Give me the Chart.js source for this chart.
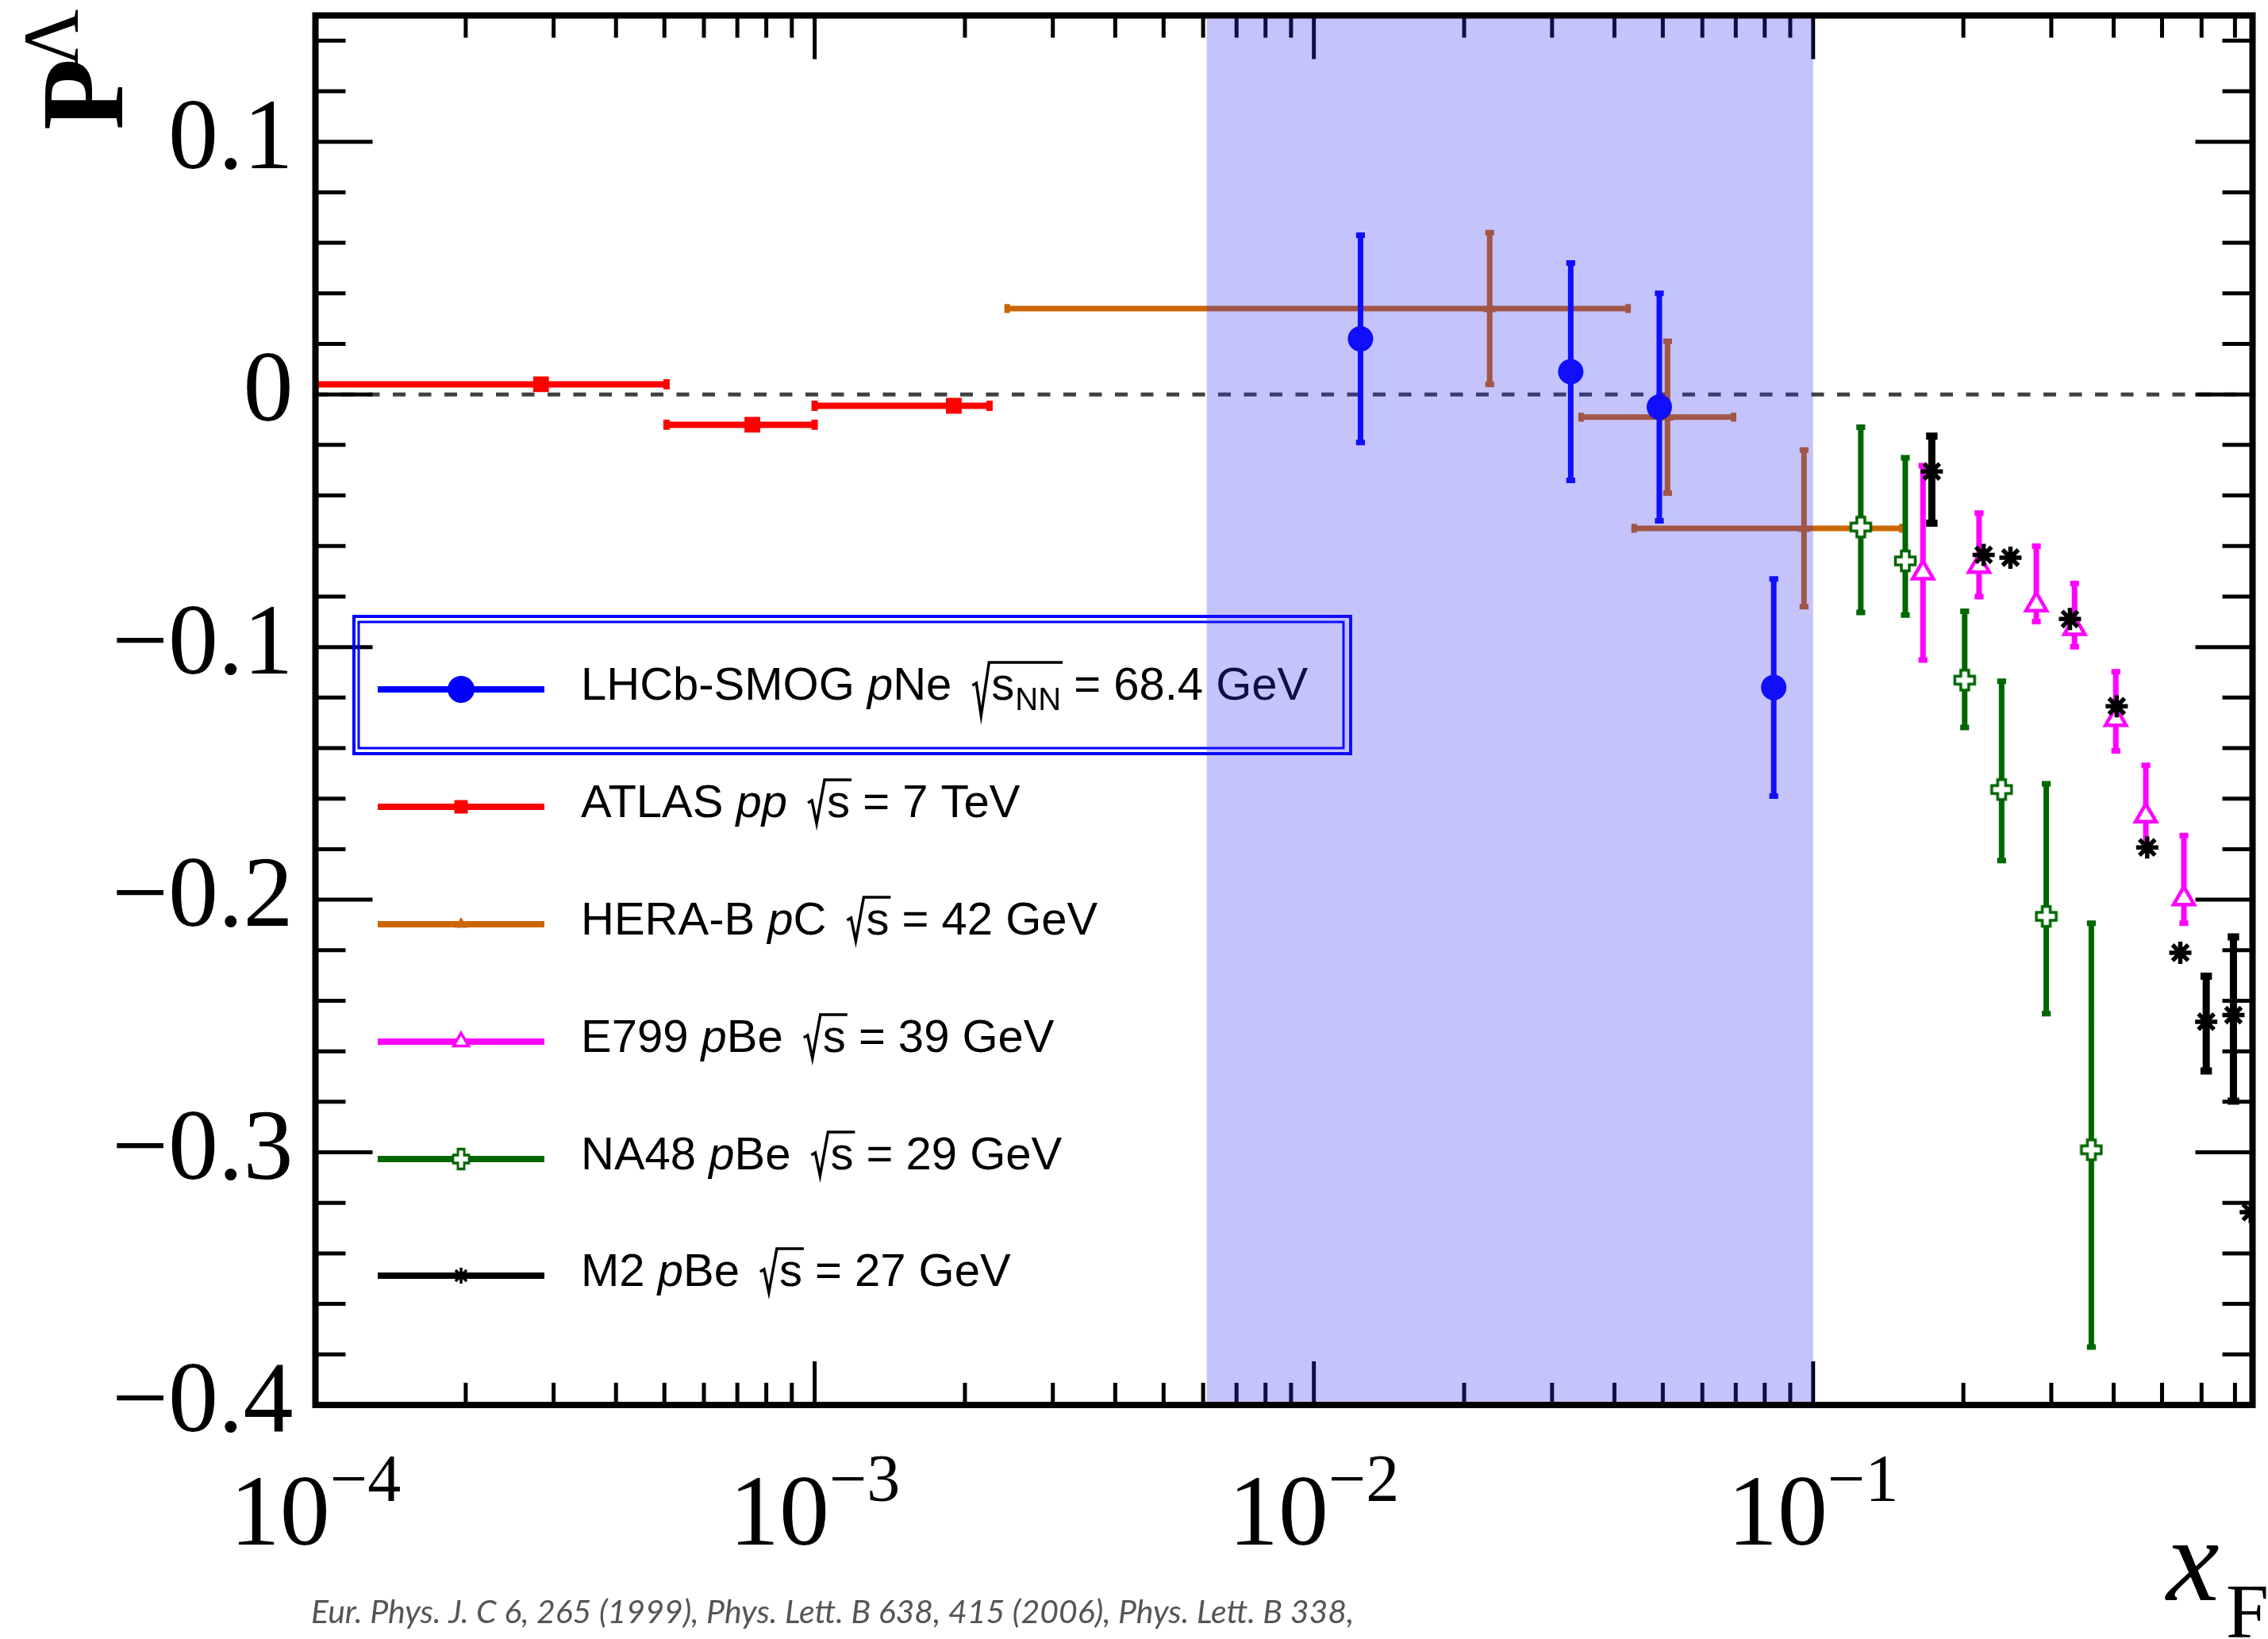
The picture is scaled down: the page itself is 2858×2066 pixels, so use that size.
<!DOCTYPE html>
<html>
<head>
<meta charset="utf-8">
<title>Lambda polarisation vs xF</title>
<script src="https://cdn.jsdelivr.net/npm/chart.js"></script>
<style>
  html, body { margin: 0; padding: 0; background: #fff; }
  canvas { display: block; background: #fff; }
</style>
</head>
<body>
<canvas id="chart" width="2858" height="2066"></canvas>
<script>
// axis ranges
const xMin = 1e-4, xMax = 0.759;
const yMin = -0.4, yMax = 0.15;
const xTickDecades = [-4, -3, -2, -1];
const yTickValues = [0.1, 0, -0.1, -0.2, -0.3, -0.4];

// LHCb-SMOG pNe, sqrt(sNN) = 68.4 GeV
const lhcbX = [0.0124, 0.0327, 0.0492, 0.0834];
const lhcbY = [0.022, 0.009, -0.005, -0.116];
const lhcbErr = [0.041, 0.043, 0.045, 0.043];

// ATLAS pp 7 TeV (horizontal bins only)
const atlasX = [2.83e-4, 7.5e-4, 1.9e-3];
const atlasY = [0.004, -0.012, -0.0045];
const atlasXLo = [1e-4, 5.05e-4, 1.0e-3];
const atlasXHi = [5.05e-4, 1.0e-3, 2.24e-3];

// HERA-B pC 42 GeV
const herabX = [0.0225, 0.0511, 0.0959];
const herabY = [0.034, -0.009, -0.053];
const herabXLo = [0.00243, 0.0343, 0.0438];
const herabXHi = [0.0426, 0.0693, 0.1506];
const herabErr = [0.030, 0.030, 0.031];

// E799 pBe 39 GeV
const e799X = [0.166, 0.215, 0.280, 0.334, 0.404, 0.464, 0.553];
const e799Y = [-0.0706, -0.068, -0.0832, -0.0926, -0.1286, -0.1668, -0.1996];
const e799ErrLo = [0.0345, 0.012, 0.0067, 0.0073, 0.0125, 0.0138, 0.0097];
const e799ErrHi = [0.0424, 0.021, 0.0231, 0.0178, 0.0188, 0.020, 0.025];

// NA48 pBe 29 GeV
const na48X = [0.1246, 0.153, 0.2012, 0.2386, 0.2931, 0.3609];
const na48Y = [-0.0525, -0.0659, -0.1131, -0.1564, -0.2066, -0.2990];
const na48ErrLo = [0.0338, 0.0214, 0.0187, 0.0281, 0.0385, 0.0781];
const na48ErrHi = [0.0395, 0.0408, 0.0273, 0.0429, 0.0525, 0.0897];

// M2 pBe 27 GeV
const m2X = [0.1729, 0.2196, 0.2485, 0.327, 0.4057, 0.467, 0.544, 0.613, 0.695, 0.753];
const m2Y = [-0.0305, -0.0635, -0.0646, -0.0889, -0.1234, -0.1793, -0.221, -0.2483, -0.2457, -0.3237];
const m2ErrLo = [0.0205, 0, 0, 0, 0, 0, 0, 0.0195, 0.034, 0];
const m2ErrHi = [0.014, 0, 0, 0, 0, 0, 0, 0.018, 0.031, 0];

// LHCb acceptance band in xF
const bandX = [0.0061, 0.1];

// legend text pieces
const legendNames = ['LHCb-SMOG', 'ATLAS', 'HERA-B', 'E799', 'NA48', 'M2'];
const legendBeamItalic = ['p', 'pp', 'p', 'p', 'p', 'p'];
const legendBeamRest = ['Ne', '', 'C', 'Be', 'Be', 'Be'];
const legendSub = ['NN', '', '', '', '', ''];
const legendEnergy = ['68.4 GeV', '7 TeV', '42 GeV', '39 GeV', '29 GeV', '27 GeV'];

const footerText = 'Eur. Phys. J. C 6, 265 (1999), Phys. Lett. B 638, 415 (2006), Phys. Lett. B 338,';

const zip = (xs, ys) => xs.map((x, i) => ({ x: x, y: ys[i] }));

// NA48 marker: outlined plus with white inside
function openCross(color) {
  const c = document.createElement('canvas');
  c.width = 30; c.height = 30;
  const g = c.getContext('2d');
  const m = 15, a = 12.5, t = 5;
  g.beginPath();
  g.moveTo(m - t, m - a); g.lineTo(m + t, m - a); g.lineTo(m + t, m - t);
  g.lineTo(m + a, m - t); g.lineTo(m + a, m + t); g.lineTo(m + t, m + t);
  g.lineTo(m + t, m + a); g.lineTo(m - t, m + a); g.lineTo(m - t, m + t);
  g.lineTo(m - a, m + t); g.lineTo(m - a, m - t); g.lineTo(m - t, m - t);
  g.closePath();
  g.fillStyle = '#fff';
  g.fill();
  g.strokeStyle = color;
  g.lineWidth = 3.5;
  g.stroke();
  return c;
}

const BLUE = '#0000ff', RED = '#ff0000', ORANGE = '#cc6600',
      MAGENTA = '#ff00ff', GREEN = '#006600', BLACK = '#000000';
const crossImg = openCross(GREEN);

const datasets = [
  {
    label: 'LHCb-SMOG', data: zip(lhcbX, lhcbY), order: 1,
    pointStyle: 'circle', pointRadius: 16, pointBackgroundColor: BLUE, pointBorderWidth: 0,
    errorBars: { color: BLUE, width: 7, yLo: lhcbErr, yHi: lhcbErr }
  },
  {
    label: 'M2', data: zip(m2X, m2Y), order: 2,
    pointStyle: 'star', pointRadius: 14, pointBorderColor: BLACK, pointBorderWidth: 5.5,
    errorBars: { color: BLACK, width: 9, yLo: m2ErrLo, yHi: m2ErrHi }
  },
  {
    label: 'E799', data: zip(e799X, e799Y), order: 3,
    pointStyle: 'triangle', pointRadius: 15, pointBackgroundColor: '#ffffff',
    pointBorderColor: MAGENTA, pointBorderWidth: 4.5,
    errorBars: { color: MAGENTA, width: 7, yLo: e799ErrLo, yHi: e799ErrHi }
  },
  {
    label: 'NA48', data: zip(na48X, na48Y), order: 4,
    pointStyle: crossImg, pointRadius: 12,
    errorBars: { color: GREEN, width: 7, yLo: na48ErrLo, yHi: na48ErrHi }
  },
  {
    label: 'HERA-B', data: zip(herabX, herabY), order: 5,
    pointStyle: 'triangle', pointRadius: 9, pointBackgroundColor: ORANGE, pointBorderWidth: 0,
    errorBars: { color: ORANGE, width: 7, yLo: herabErr, yHi: herabErr, xLo: herabXLo, xHi: herabXHi }
  },
  {
    label: 'ATLAS', data: zip(atlasX, atlasY), order: 6,
    pointStyle: 'rect', pointRadius: 14, pointBackgroundColor: RED, pointBorderWidth: 0,
    errorBars: { color: RED, width: 8, xLo: atlasXLo, xHi: atlasXHi }
  },
  {
    label: 'zero', type: 'line', order: 10, showLine: true,
    data: [{ x: xMin, y: 0 }, { x: xMax, y: 0 }],
    borderColor: '#404040', borderWidth: 5, borderDash: [16, 16.5], pointRadius: 0
  }
];

// error bars, drawn just before each series' markers
const errorBars = {
  id: 'errorBars',
  beforeDatasetDraw(chart, args) {
    const ds = chart.data.datasets[args.index];
    const eb = ds.errorBars;
    if (!eb) return;
    const { ctx, chartArea: a } = chart;
    const xs = chart.scales.x, ys = chart.scales.y;
    const cap = eb.width * 0.8;
    ctx.save();
    ctx.beginPath();
    ctx.rect(a.left, a.top, a.right - a.left, a.bottom - a.top);
    ctx.clip();
    ctx.strokeStyle = eb.color;
    ctx.lineWidth = eb.width;
    ctx.beginPath();
    ds.data.forEach((p, i) => {
      const px = xs.getPixelForValue(p.x), py = ys.getPixelForValue(p.y);
      if (eb.yLo && (eb.yLo[i] > 0 || eb.yHi[i] > 0)) {
        const y1 = ys.getPixelForValue(p.y - eb.yLo[i]);
        const y2 = ys.getPixelForValue(p.y + eb.yHi[i]);
        ctx.moveTo(px, y1); ctx.lineTo(px, y2);
        ctx.moveTo(px - cap, y1); ctx.lineTo(px + cap, y1);
        ctx.moveTo(px - cap, y2); ctx.lineTo(px + cap, y2);
      }
      if (eb.xLo) {
        const x1 = xs.getPixelForValue(eb.xLo[i]);
        const x2 = xs.getPixelForValue(eb.xHi[i]);
        ctx.moveTo(x1, py); ctx.lineTo(x2, py);
        ctx.moveTo(x1, py - cap); ctx.lineTo(x1, py + cap);
        ctx.moveTo(x2, py - cap); ctx.lineTo(x2, py + cap);
      }
    });
    ctx.stroke();
    ctx.restore();
  }
};

// frame with inward ticks on all four sides
const frame = {
  id: 'frame',
  afterDatasetsDraw(chart) {
    const { ctx, chartArea: a } = chart;
    const xs = chart.scales.x, ys = chart.scales.y;
    ctx.save();
    ctx.strokeStyle = '#000';
    ctx.lineWidth = 5;
    ctx.beginPath();
    for (let d = -4; d <= 0; d++) {
      for (let k = 1; k <= 9; k++) {
        const v = k * Math.pow(10, d);
        if (v < xMin * 1.001 || v > xMax) continue;
        const px = xs.getPixelForValue(v);
        const len = k === 1 ? 55 : 28;
        ctx.moveTo(px, a.bottom); ctx.lineTo(px, a.bottom - len);
        ctx.moveTo(px, a.top); ctx.lineTo(px, a.top + len);
      }
    }
    for (let i = -20; i <= 7; i++) {
      const py = ys.getPixelForValue(i * 0.02);
      const len = i % 5 === 0 ? 72 : 38;
      ctx.moveTo(a.left, py); ctx.lineTo(a.left + len, py);
      ctx.moveTo(a.right, py); ctx.lineTo(a.right - len, py);
    }
    ctx.stroke();
    ctx.lineWidth = 8;
    ctx.strokeRect(a.left, a.top, a.right - a.left, a.bottom - a.top);
    ctx.restore();
  }
};

function drawMarker(ctx, style, radius, fill, stroke, bw, x, y) {
  ctx.save();
  ctx.fillStyle = fill;
  ctx.strokeStyle = stroke;
  ctx.lineWidth = bw;
  Chart.helpers.drawPoint(ctx, { pointStyle: style, radius: radius, rotation: 0, borderWidth: bw }, x, y);
  ctx.restore();
}

function text(ctx, str, x, y, font) {
  ctx.font = font;
  ctx.fillText(str, x, y);
  return x + ctx.measureText(str).width;
}

// legend drawn inside the frame
const legendBox = {
  id: 'legendBox',
  afterDatasetsDraw(chart) {
    const ctx = chart.ctx;
    const rowY = [869, 1017, 1165, 1313, 1461, 1608];
    const colors = [BLUE, RED, ORANGE, MAGENTA, GREEN, BLACK];
    const sans = '58px "Liberation Sans", Arial, sans-serif';
    const isans = 'italic 58px "Liberation Sans", Arial, sans-serif';
    const subFont = '40px "Liberation Sans", Arial, sans-serif';
    ctx.save();
    rowY.forEach((y, i) => {
      ctx.strokeStyle = colors[i];
      ctx.lineWidth = 8;
      ctx.beginPath();
      ctx.moveTo(476, y); ctx.lineTo(686, y);
      ctx.stroke();
      const mx = 581;
      if (i === 0) drawMarker(ctx, 'circle', 17, BLUE, BLUE, 0, mx, y);
      if (i === 1) drawMarker(ctx, 'rect', 12, RED, RED, 0, mx, y);
      if (i === 2) drawMarker(ctx, 'triangle', 9, ORANGE, ORANGE, 0, mx, y);
      if (i === 3) drawMarker(ctx, 'triangle', 11, '#fff', MAGENTA, 3.5, mx, y);
      if (i === 4) ctx.drawImage(crossImg, mx - 12, y - 15, 24, 30);
      if (i === 5) drawMarker(ctx, 'star', 10, BLACK, BLACK, 3.5, mx, y);

      const base = y + 13;
      ctx.fillStyle = '#000';
      ctx.textBaseline = 'alphabetic';
      ctx.textAlign = 'left';
      let cx = text(ctx, legendNames[i] + ' ', 732, base, sans);
      cx = text(ctx, legendBeamItalic[i], cx, base, isans);
      cx = text(ctx, legendBeamRest[i], cx, base, sans);
      cx += 26;
      // square root with overbar
      const top = base - 47;
      const bottom = base + (legendSub[i] ? 20 : 8);
      const rx = cx;
      let end = text(ctx, 's', rx + 24, base, sans);
      if (legendSub[i]) end = text(ctx, legendSub[i], end + 1, base + 13, subFont);
      ctx.strokeStyle = '#000';
      ctx.lineWidth = 3.5;
      ctx.beginPath();
      ctx.moveTo(rx, base - 18);
      ctx.lineTo(rx + 5, base - 21);
      ctx.lineTo(rx + 11, bottom);
      ctx.lineTo(rx + 21, top);
      ctx.lineTo(end + 2, top);
      ctx.stroke();
      text(ctx, ' = ' + legendEnergy[i], end, base, sans);
    });
    // highlight box around the LHCb entry
    ctx.strokeStyle = BLUE;
    ctx.lineWidth = 4;
    ctx.strokeRect(446, 777, 1256, 173);
    ctx.lineWidth = 3;
    ctx.strokeRect(452, 784, 1241, 159);
    ctx.restore();
  }
};

// translucent band, decade labels and axis titles
const overlay = {
  id: 'overlay',
  afterDraw(chart) {
    const { ctx, chartArea: a } = chart;
    const xs = chart.scales.x;
    ctx.save();
    const b0 = xs.getPixelForValue(bandX[0]), b1 = xs.getPixelForValue(bandX[1]);
    ctx.fillStyle = 'rgba(54, 48, 241, 0.29)';
    ctx.fillRect(b0, a.top + 4, b1 - b0, a.bottom - a.top - 8);

    ctx.fillStyle = '#000';
    ctx.textAlign = 'left';
    ctx.textBaseline = 'alphabetic';
    const big = '126px "Liberation Serif", "Times New Roman", serif';
    const sup = '84px "Liberation Serif", "Times New Roman", serif';
    xTickDecades.forEach(d => {
      const px = xs.getPixelForValue(Math.pow(10, d));
      ctx.font = big;
      const w1 = ctx.measureText('10').width;
      const e = '\u2212' + Math.abs(d);
      ctx.font = sup;
      const w2 = ctx.measureText(e).width;
      const x0 = px - (w1 + w2) / 2;
      text(ctx, '10', x0, 1947, big);
      text(ctx, e, x0 + w1, 1892, sup);
    });

    // x axis title
    text(ctx, 'x', 2730, 2017, 'italic 150px "Liberation Serif", "Times New Roman", serif');
    text(ctx, 'F', 2805, 2064, '97px "Liberation Serif", "Times New Roman", serif');

    // y axis title, rotated
    ctx.save();
    ctx.translate(154, 164);
    ctx.rotate(-Math.PI / 2);
    text(ctx, 'P', 0, 0, 'bold 148px "Liberation Serif", "Times New Roman", serif');
    text(ctx, '\u039B', 80, -56, '100px "Liberation Serif", "Times New Roman", serif');
    ctx.restore();

    // reference line under the plot
    ctx.fillStyle = '#555555';
    ctx.font = 'italic 41px Lato, "Open Sans", sans-serif';
    ctx.fillText(footerText, 392, 2046, 1316);
    ctx.restore();
  }
};

new Chart(document.getElementById('chart'), {
  type: 'scatter',
  data: { datasets: datasets },
  options: {
    responsive: false,
    animation: false,
    devicePixelRatio: 1,
    events: [],
    layout: { padding: { top: 18, right: 5, bottom: 0, left: 0 } },
    scales: {
      x: {
        type: 'logarithmic', min: xMin, max: xMax,
        grid: { display: false, drawTicks: false },
        border: { display: false },
        ticks: { display: false },
        afterFit: s => { s.height = 295; s.paddingLeft = 0; s.paddingRight = 0; }
      },
      y: {
        type: 'linear', min: yMin, max: yMax,
        grid: { display: false, drawTicks: false },
        border: { display: false },
        afterBuildTicks: s => { s.ticks = yTickValues.map(v => ({ value: v })); },
        afterFit: s => { s.width = 397.5; s.paddingTop = 0; s.paddingBottom = 0; },
        ticks: {
          color: '#000',
          padding: 28,
          autoSkip: false,
          font: { family: '"Liberation Serif", "Times New Roman", serif', size: 126 },
          callback: v => v === 0 ? '0' : (v < 0 ? '\u2212' : '') + Math.abs(v).toFixed(1)
        }
      }
    },
    plugins: { legend: { display: false }, tooltip: { enabled: false } }
  },
  plugins: [errorBars, frame, legendBox, overlay]
});
</script>
</body>
</html>
